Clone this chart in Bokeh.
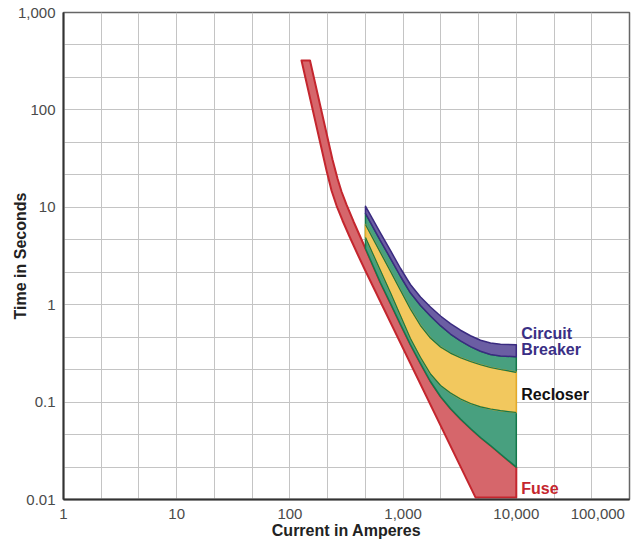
from bokeh.plotting import figure
from bokeh.models import Range1d, FixedTicker, Label
from bokeh.embed import file_html
from bokeh.resources import INLINE

# ---------------- data ----------------
x_tick_values = [1, 10, 100, 1000, 10000, 100000]
x_tick_labels = ["1", "10", "100", "1,000", "10,000", "100,000"]
y_tick_values = [0.01, 0.1, 1, 10, 100, 1000]
y_tick_labels = ["0.01", "0.1", "1", "10", "100", "1,000"]

# Fuse: minimum-melt (left/lower) edge
fuse_melt_current = [126.6, 210.6, 233.1, 258.0, 291.5, 336.1, 395.6, 465.4, 4360]
fuse_melt_time = [321.5, 23.87, 14.88, 10.43, 7.32, 5.014, 3.315, 2.218, 0.0105]
# Fuse: total-clearing (right/upper) edge, upper part (continues along recloser bottom)
fuse_clear_current = [150.5, 237.8, 263.3, 285.6, 316.2, 364.7]
fuse_clear_time = [321.5, 30.96, 19.75, 14.53, 10.68, 7.15]
fuse_floor_time = 0.0105

# Breaker / recloser bands (share the same current columns)
band_current = [465, 630, 775, 950, 1160, 1425, 1745, 2140, 2620, 3215, 3940, 4830, 5920, 7250, 10000]
breaker_top = [10.26, 5.46, 3.584, 2.353, 1.612, 1.200, 0.947, 0.766, 0.638, 0.547, 0.480, 0.432, 0.404, 0.393, 0.388]
breaker_bottom = [8.64, 4.56, 2.98, 1.948, 1.325, 0.981, 0.766, 0.609, 0.500, 0.425, 0.3706, 0.3323, 0.3081, 0.2981, 0.2918]
recloser_slow_bottom = [6.66, 3.435, 2.192, 1.399, 0.903, 0.6115, 0.455, 0.368, 0.3185, 0.285, 0.261, 0.242, 0.2265, 0.2161, 0.2023]
recloser_fast_top = [4.90, 2.244, 1.318, 0.766, 0.4498, 0.287, 0.1943, 0.148, 0.124, 0.1076, 0.0967, 0.0894, 0.0849, 0.0816, 0.0782]
recloser_bottom = [3.776, 1.690, 1.029, 0.626, 0.3904, 0.249, 0.1627, 0.1142, 0.0859, 0.0671, 0.0536, 0.0433, 0.0358, 0.0293, 0.02146]

series_labels = ["Circuit", "Breaker", "Recloser", "Fuse"]
series_label_time = [0.506, 0.347, 0.12, 0.013]

# ---------------- styles ----------------
PURPLE_FILL, PURPLE_LINE = "#6b5ea3", "#3a2b80"
GREEN_FILL, GREEN_LINE = "#48a07f", "#14784b"
YELLOW_FILL, YELLOW_LINE = "#f2c85e", "#e3a92a"
RED_FILL, RED_LINE = "#d6666b", "#c4262e"
LABEL_COLORS = ["#3a2f85", "#3a2f85", "#111111", "#c4262e"]
FONT = "Liberation Sans"
LAST_LABEL_PULL_IN = 0.28  # decades: keeps the last x label inside the window

p = figure(
    width=634, height=542,
    x_axis_type="log", y_axis_type="log",
    x_range=Range1d(1, 1e5), y_range=Range1d(0.01, 1000),
    output_backend="svg", toolbar_location=None,
    min_border_left=63, min_border_right=5, min_border_top=12, min_border_bottom=43,
    background_fill_color="white", border_fill_color="white",
)

# grid: three lines per decade
p.xgrid.ticker = FixedTicker(ticks=[10 ** (k / 3) for k in range(0, 16)])
p.ygrid.ticker = FixedTicker(ticks=[10 ** (k / 3) for k in range(-6, 10)])
p.grid.grid_line_color = "#c4c4c4"
p.grid.grid_line_width = 1

p.outline_line_color = "#666666"
p.outline_line_width = 1.5

# x label anchors: last one pulled inward so it fits the window
x_label_anchor = x_tick_values[:-1] + [x_tick_values[-1] / 10 ** LAST_LABEL_PULL_IN]

for ax, vals, labs in ((p.xaxis, x_label_anchor, x_tick_labels), (p.yaxis, y_tick_values, y_tick_labels)):
    ax.ticker = FixedTicker(ticks=vals, minor_ticks=[])
    ax.major_label_overrides = dict(zip(vals, labs))
    ax.major_tick_out = 0
    ax.major_tick_in = 0
    ax.minor_tick_out = 0
    ax.minor_tick_in = 0
    ax.axis_line_color = "#333333"
    ax.axis_line_width = 2
    ax.major_label_text_font = FONT
    ax.major_label_text_font_size = "15px"
    ax.major_label_text_color = "#4a4a4a"
    ax.axis_label_text_font = FONT
    ax.axis_label_text_font_style = "bold"
    ax.axis_label_text_font_size = "16px"
    ax.axis_label_text_color = "#222222"
p.xaxis.major_label_standoff = 9
p.yaxis.major_label_standoff = 8
p.xaxis.axis_label = "Current in Amperes"
p.yaxis.axis_label = "Time in Seconds"
p.xaxis.axis_label_standoff = 0
p.yaxis.axis_label_standoff = -14

# ---------------- fuse ----------------
fuse_x = fuse_clear_current + band_current + [band_current[-1], fuse_melt_current[-1]] + fuse_melt_current[::-1][1:]
fuse_y = fuse_clear_time + recloser_bottom + [fuse_floor_time, fuse_floor_time] + fuse_melt_time[::-1][1:]
p.patch(fuse_x, fuse_y, fill_color=RED_FILL, line_color=RED_LINE, line_width=2, line_join="round")

# ---------------- recloser (green), yellow band, breaker ----------------
p.patch(band_current + band_current[::-1], breaker_bottom + recloser_bottom[::-1],
        fill_color=GREEN_FILL, line_color=GREEN_LINE, line_width=1.5, line_join="round")
p.patch(band_current + band_current[::-1], recloser_slow_bottom + recloser_fast_top[::-1],
        fill_color=YELLOW_FILL, line_color=YELLOW_LINE, line_width=1.5, line_join="round")
p.line(band_current, recloser_slow_bottom, line_color=GREEN_LINE, line_width=1.2)
p.line(band_current, recloser_fast_top, line_color=GREEN_LINE, line_width=1.2)
p.patch(band_current + band_current[::-1], breaker_top + breaker_bottom[::-1],
        fill_color=PURPLE_FILL, line_color=PURPLE_LINE, line_width=1.5, line_join="round")

# ---------------- series labels ----------------
for txt, t, col in zip(series_labels, series_label_time, LABEL_COLORS):
    p.add_layout(Label(x=band_current[-1], y=t, x_offset=5, text=txt,
                       text_align="left", text_baseline="middle",
                       text_font=FONT, text_font_style="bold", text_font_size="16px",
                       text_color=col))

open("out.html", "w").write(file_html(p, INLINE))
